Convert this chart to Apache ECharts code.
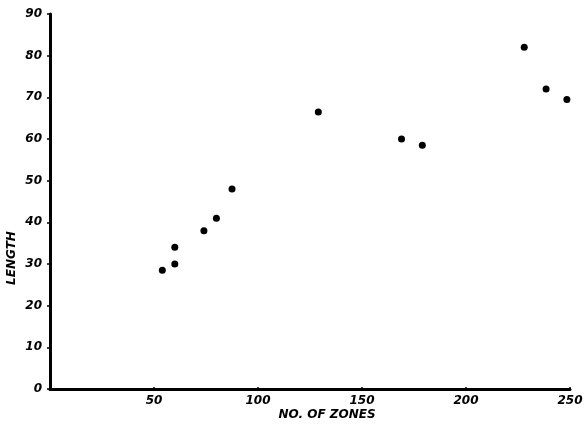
<!DOCTYPE html>
<html>
<head>
<meta charset="utf-8">
<script src="https://cdn.jsdelivr.net/npm/echarts@6/dist/echarts.min.js"></script>
<style>
  html, body { margin: 0; padding: 0; background: #fff; }
  #chart { width: 586px; height: 434px; }
</style>
</head>
<body>
<div id="chart"></div>
<script>
// number of zones vs length
var zones = [54, 60, 60, 74, 80, 87.5, 129, 169, 179, 228, 238.5, 248.5];
var lengths = [28.5, 30, 34, 38, 41, 48, 66.5, 60, 58.5, 82, 72, 69.5];
var xTicks = [0, 50, 100, 150, 200, 250];
var yTicks = [0, 10, 20, 30, 40, 50, 60, 70, 80, 90];

var chart = echarts.init(document.getElementById('chart'));
var font = { fontFamily: 'DejaVu Sans', fontStyle: 'italic', fontWeight: 'bold', fontSize: 12, color: '#000' };

chart.setOption({
    animation: false,
    grid: { left: 50, right: 16, top: 14, bottom: 45 },
    xAxis: {
        type: 'value',
        min: xTicks[0],
        max: xTicks[xTicks.length - 1],
        interval: 50,
        axisLine: { lineStyle: { color: '#000', width: 3 } },
        axisTick: { show: true, inside: true, length: 2, lineStyle: { color: '#000', width: 1.5 } },
        splitLine: { show: false },
        axisLabel: Object.assign({ margin: 6, showMinLabel: false }, font)
    },
    yAxis: {
        type: 'value',
        min: yTicks[0],
        max: yTicks[yTicks.length - 1],
        interval: 10,
        offset: 3,
        axisLine: { show: true, lineStyle: { color: '#000', width: 3 } },
        axisTick: { show: true, length: 3, lineStyle: { color: '#000', width: 1.5 } },
        splitLine: { show: false },
        axisLabel: Object.assign({ margin: 5 }, font)
    },
    graphic: [
        {
            type: 'text',
            x: 12, y: 258,
            rotation: Math.PI / 2,
            style: Object.assign({ text: 'LENGTH', textAlign: 'center', textVerticalAlign: 'middle' }, font, { fill: '#000' })
        },
        {
            type: 'text',
            x: 327, y: 415,
            style: Object.assign({ text: 'NO. OF ZONES', textAlign: 'center', textVerticalAlign: 'middle' }, font, { fill: '#000' })
        }
    ],
    series: [{
        type: 'scatter',
        symbolSize: 7,
        itemStyle: { color: '#000', opacity: 1 },
        data: zones.map(function (z, i) { return [z, lengths[i]]; })
    }]
});
</script>
</body>
</html>
